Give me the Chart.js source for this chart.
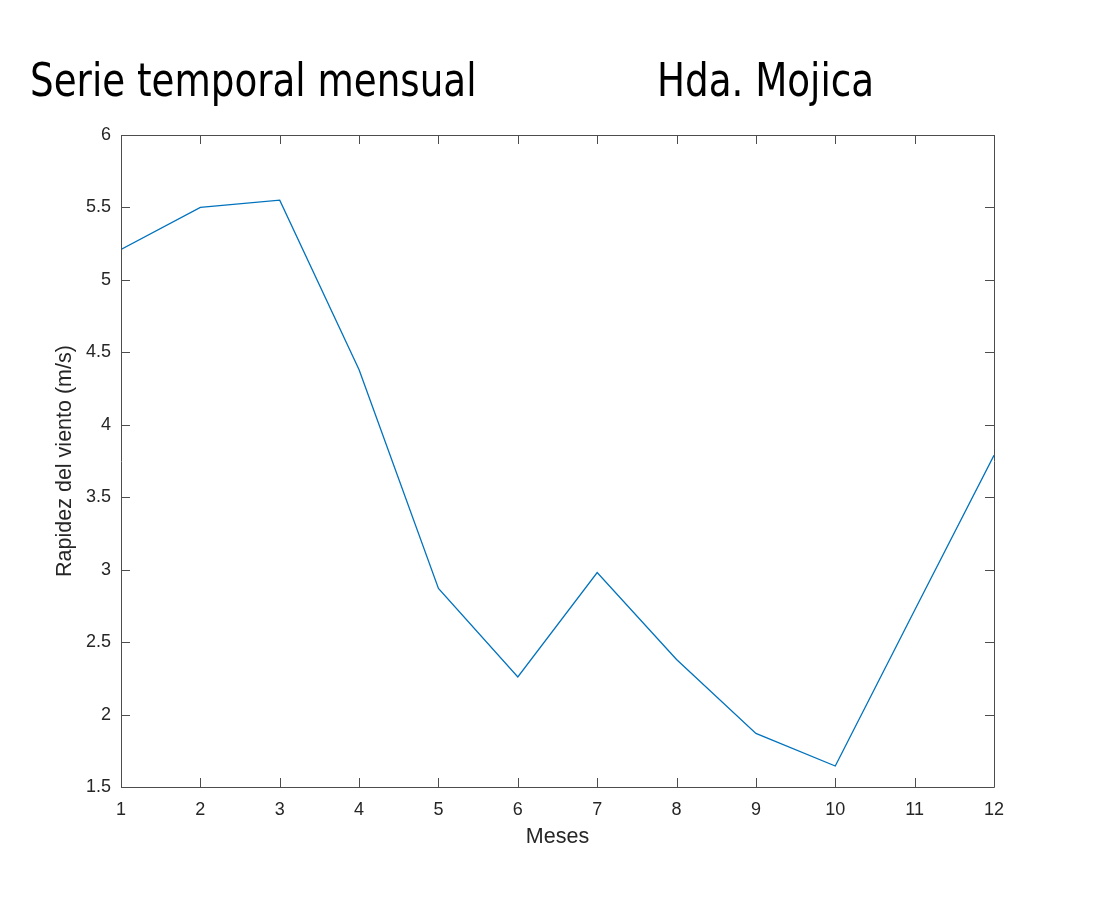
<!DOCTYPE html>
<html><head><meta charset="utf-8">
<script src="https://cdn.jsdelivr.net/npm/chart.js@4.4.1/dist/chart.umd.min.js"></script>
<style>
html,body{margin:0;padding:0;background:#fff;}
#wrap{position:relative;width:1096px;height:897px;}
canvas{position:absolute;left:0;top:0;}
.t{position:absolute;top:52px;font-family:"DejaVu Sans Condensed","DejaVu Sans",sans-serif;font-size:46px;color:#000;white-space:nowrap;line-height:56px;transform:scaleX(0.9);transform-origin:0 0;}
</style></head>
<body><div id="wrap">
<canvas id="c" width="1096" height="897"></canvas>
<div class="t" style="left:30px">Serie temporal mensual</div>
<div class="t" style="left:657px">Hda. Mojica</div>
</div>
<script>
const months = [1,2,3,4,5,6,7,8,9,10,11,12];
const speed = [5.21,5.50,5.55,4.38,2.87,2.26,2.98,2.38,1.87,1.645,2.72,3.79];
const xTicks = [1,2,3,4,5,6,7,8,9,10,11,12];
const yTicks = [1.5,2,2.5,3,3.5,4,4.5,5,5.5,6];

const axisColor = '#262626';
const boxPlugin = {
  id:'box',
  afterDatasetsDraw(chart){
    const {ctx, chartArea:a, scales:{x,y}} = chart;
    ctx.save();
    ctx.strokeStyle = '#4d4d4d';
    ctx.lineWidth = 1;
    ctx.beginPath();
    ctx.rect(Math.round(a.left)+0.5, Math.round(a.top)+0.5, Math.round(a.right-a.left), Math.round(a.bottom-a.top));
    ctx.stroke();
    const L = 9;
    ctx.beginPath();
    xTicks.forEach(v=>{
      const px = Math.round(x.getPixelForValue(v))+0.5;
      ctx.moveTo(px,a.bottom); ctx.lineTo(px,a.bottom-L);
      ctx.moveTo(px,a.top); ctx.lineTo(px,a.top+L);
    });
    yTicks.forEach(v=>{
      const py = Math.round(y.getPixelForValue(v))+0.5;
      ctx.moveTo(a.left,py); ctx.lineTo(a.left+L,py);
      ctx.moveTo(a.right,py); ctx.lineTo(a.right-L,py);
    });
    ctx.stroke();
    ctx.restore();
  }
};

new Chart(document.getElementById('c'),{
  type:'line',
  data:{datasets:[{data:months.map((m,i)=>({x:m,y:speed[i]})),borderColor:'#0072BD',borderWidth:1.3,pointRadius:0,tension:0,fill:false}]},
  options:{
    responsive:false,animation:false,devicePixelRatio:1,
    layout:{padding:{left:0,right:102,top:135,bottom:0}},
    plugins:{legend:{display:false},tooltip:{enabled:false},title:{display:false}},
    scales:{
      x:{type:'linear',min:1,max:12,
        afterBuildTicks(s){s.ticks=xTicks.map(v=>({value:v}));},
        afterFit(s){s.height=110;},
        grid:{display:false,drawTicks:false},border:{display:false},
        ticks:{color:axisColor,padding:12,font:{family:'Liberation Sans, Arial, sans-serif',size:18},maxRotation:0,autoSkip:false},
        title:{display:true,text:'Meses',color:axisColor,font:{family:'Liberation Sans, Arial, sans-serif',size:21.5},padding:{top:0,bottom:47}}
      },
      y:{type:'linear',min:1.5,max:6,
        afterBuildTicks(s){s.ticks=yTicks.map(v=>({value:v}));},
        afterFit(s){s.width=121;},
        grid:{display:false,drawTicks:false},border:{display:false},
        ticks:{color:axisColor,padding:10,font:{family:'Liberation Sans, Arial, sans-serif',size:18},autoSkip:false,callback:v=>String(v)},
        title:{display:true,text:'Rapidez del viento (m/s)',color:axisColor,font:{family:'Liberation Sans, Arial, sans-serif',size:21.5},padding:{top:52,bottom:0}}
      }
    }
  },
  plugins:[boxPlugin]
});
</script>
</body></html>
